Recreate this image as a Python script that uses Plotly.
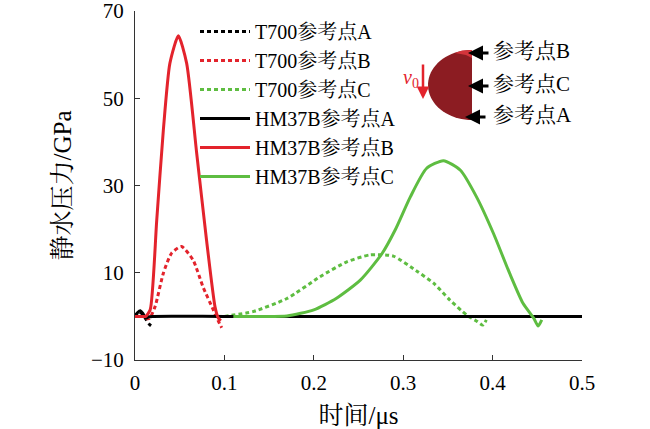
import numpy as np
import plotly.graph_objects as go

# readings (time in us, hydrostatic pressure in GPa)
t700_a_t = [0, 0.004, 0.008, 0.012, 0.016, 0.019]
t700_a_p = [0, 1.0, 0.6, -0.6, -1.8, -2.3]

t700_b_t = [0.012, 0.016, 0.0224, 0.0317, 0.041, 0.052, 0.065, 0.076, 0.0876, 0.093, 0.097]
t700_b_p = [-0.5, -0.5, 2.2, 9.9, 14.5, 16.0, 12.9, 6.8, 1.5, -1.0, -2.6]

t700_c_t = [0.1, 0.132, 0.17, 0.207, 0.237, 0.263, 0.289, 0.315, 0.334, 0.352, 0.371, 0.383, 0.389, 0.393]
t700_c_p = [0, 1.1, 4.1, 9.1, 12.5, 14.1, 13.8, 10.4, 7.6, 3.8, 0.3, -1.2, -2.0, -0.8]

hm37b_a_t = [0, 0.003, 0.006, 0.009, 0.012, 0.015, 0.02, 0.1, 0.3, 0.5]
hm37b_a_p = [0, 0.9, 1.3, 0.6, -0.4, -0.1, 0, 0, 0, 0]

hm37b_b_t = [0, 0.006, 0.012, 0.017, 0.0243, 0.0317, 0.039, 0.0485, 0.0578, 0.069, 0.080, 0.0895, 0.093, 0.096]
hm37b_b_p = [0, 0, 0, 1.5, 22, 42.7, 58, 64.3, 58, 37.4, 17.5, 2.2, -0.3, -1.0]

hm37b_c_t = [0.11, 0.132, 0.17, 0.2, 0.225, 0.252, 0.276, 0.291, 0.308, 0.326, 0.345,
             0.364, 0.382, 0.401, 0.419, 0.434, 0.446, 0.451, 0.455]
hm37b_c_p = [0, 0, 0.1, 1.5, 4.1, 8.3, 14.3, 19.8, 27.4, 33.9, 35.7,
             33.5, 27.4, 19, 9.9, 3, -0.4, -2.2, -0.8]

names = ["T700参考点A", "T700参考点B", "T700参考点C", "HM37B参考点A", "HM37B参考点B", "HM37B参考点C"]
y_ticks = [-10, 10, 30, 50, 70]

RED = "#E3232C"
GREEN = "#5EBD41"
FONT = "Liberation Serif, Noto Serif CJK SC, Noto Sans CJK SC, serif"

series = [
    (t700_a_t, t700_a_p, "black", "4px,3px"),
    (t700_b_t, t700_b_p, RED, "4px,3px"),
    (t700_c_t, t700_c_p, GREEN, "4px,3px"),
    (hm37b_a_t, hm37b_a_p, "black", "solid"),
    (hm37b_b_t, hm37b_b_p, RED, "solid"),
    (hm37b_c_t, hm37b_c_p, GREEN, "solid"),
]

fig = go.Figure()
for name, (t, p, col, dash) in zip(names, series):
    fig.add_trace(go.Scatter(x=t, y=p, mode="lines", name=name,
                             line=dict(color=col, width=3, dash=dash, shape="spline", smoothing=0.6)))

# plot area in pixels: x 135..582, y 11..360
L, R, T, B = 135, 582, 11, 360
def px(x):
    return (x - L) / (R - L)
def py(y):
    return (B - y) / (B - T)

# inset: projectile half section
ang = np.linspace(np.pi / 2, 3 * np.pi / 2, 40)
cx, cy, rx, ry = 472, 85, 44, 35
pts = [(cx + rx * np.cos(a), cy - ry * np.sin(a)) for a in ang]
path = "M " + " L ".join(f"{px(x):.4f},{py(y):.4f}" for x, y in pts) + " Z"
shapes = [dict(type="path", xref="paper", yref="paper", path=path,
               fillcolor="#8C1C22", line=dict(width=0))]
cap = [(472, 50), (472, 58), (466, 55), (455, 53), (462, 50.5)]
shapes.append(dict(type="path", xref="paper", yref="paper",
                   path="M " + " L ".join(f"{px(x):.4f},{py(y):.4f}" for x, y in cap) + " Z",
                   fillcolor="#D4343B", line=dict(width=0)))

annotations = []
for label, tip_x, tip_y, tail in [("参考点B", 468, 53, 22), ("参考点C", 468, 86, 22), ("参考点A", 465, 117, 22)]:
    annotations.append(dict(xref="paper", yref="paper", x=px(tip_x), y=py(tip_y), ax=tail, ay=0,
                            text="", showarrow=True, arrowhead=2, arrowsize=1, arrowwidth=3,
                            arrowcolor="black"))
    annotations.append(dict(xref="paper", yref="paper", x=px(491), y=py(tip_y - 2), text=label,
                            showarrow=False, xanchor="left", yanchor="middle",
                            font=dict(family=FONT, size=21, color="black")))
annotations.append(dict(xref="paper", yref="paper", x=px(423), y=py(99), ax=0, ay=-36,
                        text="", showarrow=True, arrowhead=2, arrowsize=1, arrowwidth=2.5,
                        arrowcolor=RED))
annotations.append(dict(xref="paper", yref="paper", x=px(411), y=py(64), text="<i>v</i><sub>0</sub>",
                        showarrow=False, font=dict(family=FONT, size=20, color=RED)))

fig.update_layout(
    width=650, height=429,
    margin=dict(l=L, r=650 - R, t=T, b=429 - B, autoexpand=False),
    paper_bgcolor="white", plot_bgcolor="white",
    font=dict(family=FONT, size=21, color="black"),
    showlegend=True,
    legend=dict(x=px(195), y=py(12), xanchor="left", yanchor="top", itemwidth=50,
                bgcolor="rgba(0,0,0,0)", font=dict(family=FONT, size=20)),
    shapes=shapes, annotations=annotations,
)
fig.update_xaxes(range=[0, 0.5], dtick=0.1, ticks="inside", ticklen=5, tickcolor="#333",
                 showline=True, linecolor="#333", linewidth=1, showgrid=False, zeroline=False,
                 automargin=False, ticklabelstandoff=4, ticklabeloverflow="allow",
                 title=dict(text="时间/μs", standoff=18))
fig.update_yaxes(range=[-10, 70], tickvals=y_ticks, ticks="inside", ticklen=5, tickcolor="#333",
                 showline=True, linecolor="#333", linewidth=1, showgrid=False, zeroline=False,
                 automargin=False, ticklabelstandoff=6, ticklabeloverflow="allow",
                 title=dict(text="静水压力/GPa", standoff=12))

# the page body keeps its default 8px margin otherwise
fig.write_html("out.html", config={"displayModeBar": False},
               post_script="document.body.style.margin = '0';")
